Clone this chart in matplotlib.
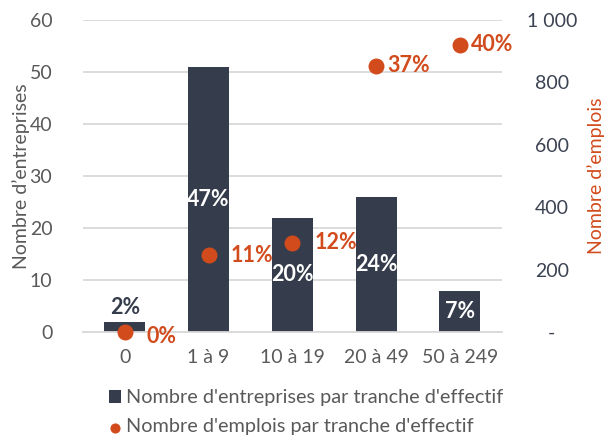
import matplotlib.pyplot as plt

plt.rcParams['font.family'] = ['Lato', 'DejaVu Sans']

categories = ['0', '1 à 9', '10 à 19', '20 à 49', '50 à 249']
entreprises = [2, 51, 22, 26, 8]
entreprises_pct = ['2%', '47%', '20%', '24%', '7%']
emplois = [0, 247, 286, 853, 920]
emplois_pct = ['0%', '11%', '12%', '37%', '40%']
right_ticks = [0, 200, 400, 600, 800, 1000]
right_labels = ['-', '200', '400', '600', '800', '1 000']

navy = '#353c4b'
orange = '#d24b1c'

fig = plt.figure(figsize=(6.09, 4.4), dpi=100)
ax = fig.add_axes([0.136, 0.245, 0.688, 0.71])
ax2 = ax.twinx()

x = range(len(categories))
ax.bar(x, entreprises, width=0.49, color=navy, zorder=2,
       label="Nombre d'entreprises par tranche d'effectif")
ax.set_ylim(0, 60)
ax.set_xlim(-0.5, len(categories) - 0.5)
ax.set_yticks(range(0, 61, 10))
ax.yaxis.grid(True, color='#d9d9d9', linewidth=1.3, zorder=0)
ax.set_axisbelow(True)
for s in ['top', 'right', 'left']:
    ax.spines[s].set_visible(False)
ax.spines['bottom'].set_color('#d9d9d9')
ax.spines['bottom'].set_linewidth(1.3)
ax.tick_params(length=0, labelsize=14, colors='#595959', pad=12)
ax.tick_params(axis='y', pad=22)
ax.set_xticks(list(x))
ax.set_xticklabels(categories)
ax.set_ylabel('Nombre d’entreprises', fontsize=14, color='#595959', labelpad=0)

for i, (v, t) in enumerate(zip(entreprises, entreprises_pct)):
    if v < 5:
        ax.annotate(t, (i, v), xytext=(0, 3), textcoords='offset points',
                    ha='center', va='bottom', fontsize=15.5, fontweight='bold', color=navy)
    else:
        ax.text(i, v / 2, t, ha='center', va='center', fontsize=15.5,
                fontweight='bold', color='white', zorder=3)

ax2.scatter(list(x), emplois, s=110, color=orange, zorder=4, clip_on=False,
            label="Nombre d'emplois par tranche d'effectif")
ax2.set_ylim(0, 1000)
ax2.set_yticks(right_ticks)
ax2.set_yticklabels(right_labels)
for s in ['top', 'right', 'left', 'bottom']:
    ax2.spines[s].set_visible(False)
ax2.tick_params(length=0, labelsize=14, colors='#3b4252', pad=36)
for lab in ax2.get_yticklabels():
    lab.set_horizontalalignment('center')
ax2.set_ylabel('Nombre d’emplois', fontsize=14, color=orange, labelpad=7)

# label offsets in points (first three sit further from their dot)
label_dx = [16, 16, 16, 8, 8]
for i, (v, t) in enumerate(zip(emplois, emplois_pct)):
    dy = -3 if v == 0 else 0
    ax2.annotate(t, (i, v), xytext=(label_dx[i], dy), textcoords='offset points',
                 ha='left', va='center', fontsize=15.5, fontweight='bold', color=orange)

h1, l1 = ax.get_legend_handles_labels()
h2, l2 = ax2.get_legend_handles_labels()
fig.legend(h1 + h2, l1 + l2, loc='lower left', bbox_to_anchor=(0.15, -0.03),
           frameon=False, fontsize=14.3, labelcolor='#595959', handlelength=0.6,
           handleheight=0.6, handletextpad=0.25, labelspacing=0.6, markerscale=0.6)

fig.savefig('out.png', dpi=100)
